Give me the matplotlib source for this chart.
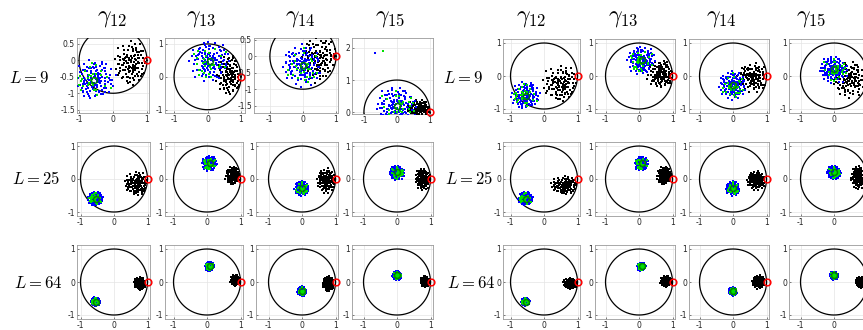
import numpy as np
import matplotlib
matplotlib.use("Agg")
import matplotlib.pyplot as plt

plt.rcParams['mathtext.fontset'] = 'cm'
plt.rcParams['axes.unicode_minus'] = False
plt.rcParams['font.family'] = ['DejaVu Sans']

# ---------------- data ----------------
GAMMAS = ["12", "13", "14", "15"]
LS = [9, 25, 64]

# centre of the coloured (blue/green) cloud, same for every L and both panels
BLUE_CENTERS = [(-0.55, -0.60), (0.08, 0.47), (0.00, -0.28), (0.00, 0.20)]

# blue cloud spread per panel and L
BLUE_SPREAD_LEFT = [0.22, 0.08, 0.05]
BLUE_SPREAD_RIGHT = [0.15, 0.075, 0.045]

# black cloud (center x, center y, spread x, spread y) per panel, L, gamma
BLACK_LEFT = [
    [(0.55, -0.12, 0.18, 0.25), (0.68, 0.05, 0.15, 0.22), (0.52, -0.10, 0.20, 0.25), (0.72, 0.12, 0.15, 0.10)],
    [(0.68, -0.15, 0.13, 0.13), (0.78, 0.10, 0.08, 0.10), (0.73, -0.05, 0.10, 0.13), (0.78, 0.00, 0.08, 0.12)],
    [(0.77, -0.05, 0.06, 0.07), (0.84, 0.05, 0.05, 0.06), (0.79, -0.05, 0.06, 0.08), (0.84, 0.02, 0.05, 0.06)],
]
BLACK_RIGHT = [
    [(0.52, -0.25, 0.20, 0.20), (0.68, 0.05, 0.15, 0.15), (0.62, -0.05, 0.18, 0.15), (0.52, -0.10, 0.20, 0.20)],
    [(0.63, -0.20, 0.15, 0.10), (0.76, 0.10, 0.08, 0.10), (0.70, -0.05, 0.10, 0.10), (0.73, 0.05, 0.08, 0.13)],
    [(0.77, -0.05, 0.07, 0.06), (0.81, 0.02, 0.06, 0.06), (0.77, 0.00, 0.07, 0.07), (0.81, 0.00, 0.06, 0.06)],
]

# a few isolated outliers (left panel, L=9, gamma15)
OUTLIER_BLUE = [(-0.65, 1.85)]
OUTLIER_GREEN = [(-0.42, 1.90)]

# normalised scatter pattern (hand-typed), scaled per cloud
OFFS = [(0.1, -0.3), (1.2, 0.4), (-0.8, 1.1), (0.5, -1.4), (-1.6, -0.2), (0.9, 0.9), (-0.3, 0.6),
        (2.1, -0.5), (-1.1, -1.3), (0.0, 1.8), (1.5, -1.0), (-2.0, 0.7), (0.4, 0.2), (-0.6, -0.7),
        (1.0, -0.1), (-0.2, -1.9), (0.7, 1.5), (-1.4, 0.3), (0.3, -0.8), (-0.9, 1.6), (1.8, 0.6),
        (-0.5, 0.0), (0.2, 1.0), (-1.2, -0.9), (1.3, 1.2), (-0.1, -0.4), (0.6, -0.6), (-1.8, -1.1),
        (0.8, 0.3), (-0.4, 1.3), (1.6, -1.6), (-0.7, -1.5), (0.0, 0.5), (2.4, 0.1), (-1.0, 0.9),
        (0.5, -2.2), (-2.3, -0.4), (1.1, 0.0), (-0.3, -1.1), (0.9, -1.2), (-1.5, 1.4), (0.2, -0.1),
        (1.4, 0.8), (-0.8, -0.3), (0.6, 2.0), (-0.2, 0.8), (1.0, -1.8), (-1.3, -1.7), (0.3, 0.7),
        (-0.6, 0.4), (1.7, -0.3), (-1.9, 0.1), (0.1, -1.5), (-0.4, -0.2), (1.2, 1.7), (-1.1, 0.5),
        (0.7, -0.2), (-0.9, -2.0), (2.0, 1.1), (0.0, -0.7)]

TICKS = [-1, 0, 1]

# left panel, first row: special axis limits and y ticks
LEFT_ROW1_LIMITS = [((-1.06, 1.06), (-1.60, 0.68), [-1.5, -1, -0.5, 0, 0.5]),
                    ((-1.27, 1.12), (-1.10, 1.18), [-1, 0, 1]),
                    ((-1.48, 1.06), (-1.72, 0.55), [-1.5, -1, -0.5, 0, 0.5]),
                    ((-1.36, 1.09), (-0.05, 2.30), [0, 1, 2])]

# ---------------- layout (pixels) ----------------
W, H = 863, 330
LEFT_COL_X = [(77, 150), (165, 243), (256, 338), (352, 433)]
RIGHT_COL_X = [(503, 580), (595, 675), (689, 769), (789, 870)]
ROW_Y = [(39, 113), (142, 216), (245, 319)]
LEFT_ROW1_X = [(77, 149), (165, 245), (254, 338), (352, 433)]
LEFT_ROW1_Y = [(38, 113), (38, 113), (38, 113), (38, 114)]

fig = plt.figure(figsize=(W / 100, H / 100), dpi=100)


def add_ax(x0, x1, y0, y1):
    return fig.add_axes([x0 / W, 1 - y1 / H, (x1 - x0) / W, (y1 - y0) / H])


def cloud(cx, cy, sx, sy, nrot, rot0, step=1):
    xs, ys = [], []
    for k in range(nrot):
        a = rot0 + k * 2.09
        f = 1.0 + 0.25 * k
        c, s = np.cos(a), np.sin(a)
        for (u, v) in OFFS[k % 2::step]:
            ru = (u * c - v * s) * f
            rv = (u * s + v * c) * f
            xs.append(cx + sx * ru)
            ys.append(cy + sy * rv)
    return np.array(xs), np.array(ys)


theta = np.linspace(0, 2 * np.pi, 400)
dot = dict(marker='s', s=0.7, linewidths=0)

for p, (colx, blk, bsp) in enumerate([(LEFT_COL_X, BLACK_LEFT, BLUE_SPREAD_LEFT),
                                       (RIGHT_COL_X, BLACK_RIGHT, BLUE_SPREAD_RIGHT)]):
    for r in range(3):
        for c in range(4):
            if p == 0 and r == 0:
                x0, x1 = LEFT_ROW1_X[c]
                y0, y1 = LEFT_ROW1_Y[c]
                xl, yl, yt = LEFT_ROW1_LIMITS[c]
            else:
                x0, x1 = colx[c]
                y0, y1 = ROW_Y[r]
                sc = 33.5
                xmax = 1 + 2.5 / sc
                xl = (xmax - (x1 - x0) / sc, xmax)
                hh = (y1 - y0) / 33.0 / 2
                yl = (-hh, hh)
                yt = TICKS
            ax = add_ax(x0, x1, y0, y1)
            ax.set_xlim(*xl)
            ax.set_ylim(*yl)
            ax.set_xticks(TICKS)
            ax.set_yticks(yt)
            ax.set_xticklabels([f"{t:g}" for t in TICKS])
            ax.set_yticklabels([f"{t:g}" for t in yt])
            ax.grid(True, color='#e4e4e4', lw=0.5)
            ax.set_axisbelow(True)
            ax.tick_params(direction='in', length=1.5, width=0.4, labelsize=5.5, pad=1.5,
                           colors='#222222', top=False, right=False)
            for sp in ax.spines.values():
                sp.set_color('#9a9a9a')
                sp.set_linewidth(0.6)

            ax.plot(np.cos(theta), np.sin(theta), color='black', lw=0.9, zorder=3)

            # black cloud
            bx, by, bsx, bsy = blk[r][c]
            kx, ky = cloud(bx, by, bsx, bsy, 2, 0.3 + c)
            keep = kx ** 2 + ky ** 2 <= 0.985
            ax.scatter(kx[keep], ky[keep], color='black', zorder=4, **dot)

            # blue / green cloud
            gx, gy = BLUE_CENTERS[c]
            s = bsp[r]
            ux, uy = cloud(gx, gy, s, s, 2, 1.1 + 0.7 * c)
            ax.scatter(ux, uy, color='#0000ff', zorder=5, **dot)
            vx, vy = cloud(gx, gy, s * 1.05, s * 1.05, 1, 2.5 + c, step=2)
            ax.scatter(vx, vy, color='#00e000', zorder=5, **dot)
            if p == 0 and r == 0 and c == 3:
                ax.scatter([q[0] for q in OUTLIER_BLUE], [q[1] for q in OUTLIER_BLUE],
                           color='#0000ff', zorder=5, **dot)
                ax.scatter([q[0] for q in OUTLIER_GREEN], [q[1] for q in OUTLIER_GREEN],
                           color='#00e000', zorder=5, **dot)

            ax.plot([gx], [gy], 'o', mfc='none', mec='#008000', ms=4.3, mew=1.1, zorder=6)
            ax.plot([1], [0], 'o', mfc='none', mec='#ff0000', ms=4.8, mew=1.1, zorder=7,
                    clip_on=False)

# titles
TITLE_X = [(112, 201, 300, 390), (531, 623, 721, 811)]
for xs in TITLE_X:
    for g, x in zip(GAMMAS, xs):
        fig.text(x / W, 1 - 17 / H, r'$\gamma_{%s}$' % g, ha='center', va='center', fontsize=17)

ROW_LABEL_Y = [78, 179, 283]
ROW_LABEL_X = [(29, 36, 38), (463, 469, 471)]
for xs in ROW_LABEL_X:
    for L, x, y in zip(LS, xs, ROW_LABEL_Y):
        fig.text(x / W, 1 - y / H, r'$L=%d$' % L, ha='center', va='center', fontsize=12)

fig.savefig('out.png', dpi=100)
